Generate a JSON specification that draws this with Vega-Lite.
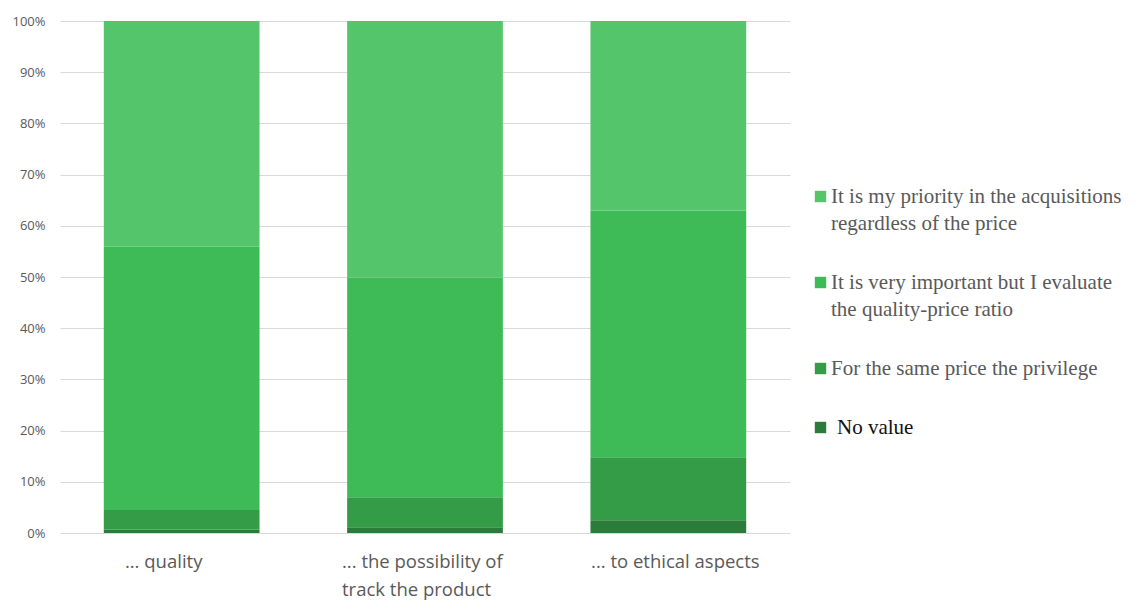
{
  "$schema": "https://vega.github.io/schema/vega-lite/v6.json",
  "width": 730,
  "height": 512,
  "autosize": {"type": "none"},
  "padding": {"left": 60, "top": 21, "right": 349, "bottom": 68},
  "background": "white",
  "config": {"view": {"stroke": null}},
  "data": {
    "values": [
      {"item": "... quality", "answer": "No value", "rank": 1, "share": 0.7},
      {"item": "... quality", "answer": "For the same price the privilege", "rank": 2, "share": 3.8},
      {"item": "... quality", "answer": "It is very important but I evaluate the quality-price ratio", "rank": 3, "share": 51.4},
      {"item": "... quality", "answer": "It is my priority in the acquisitions regardless of the price", "rank": 4, "share": 44.1},
      {"item": "... the possibility of track the product", "answer": "No value", "rank": 1, "share": 1.1},
      {"item": "... the possibility of track the product", "answer": "For the same price the privilege", "rank": 2, "share": 5.9},
      {"item": "... the possibility of track the product", "answer": "It is very important but I evaluate the quality-price ratio", "rank": 3, "share": 42.9},
      {"item": "... the possibility of track the product", "answer": "It is my priority in the acquisitions regardless of the price", "rank": 4, "share": 50.1},
      {"item": "... to ethical aspects", "answer": "No value", "rank": 1, "share": 2.5},
      {"item": "... to ethical aspects", "answer": "For the same price the privilege", "rank": 2, "share": 12.3},
      {"item": "... to ethical aspects", "answer": "It is very important but I evaluate the quality-price ratio", "rank": 3, "share": 48.2},
      {"item": "... to ethical aspects", "answer": "It is my priority in the acquisitions regardless of the price", "rank": 4, "share": 37.0}
    ]
  },
  "mark": {"type": "bar"},
  "encoding": {
    "x": {
      "field": "item",
      "type": "nominal",
      "sort": null,
      "scale": {"paddingInner": 0.36, "paddingOuter": 0.18},
      "axis": {
        "title": null,
        "domain": false,
        "ticks": false,
        "labelAngle": 0,
        "labelFont": "Open Sans",
        "labelFontSize": 18.5,
        "labelColor": "#595959",
        "labelPadding": 19,
        "labelLineHeight": 28,
        "labelLimit": 300,
        "labelExpr": "datum.label == '... the possibility of track the product' ? ['... the possibility of', 'track the product'] : datum.label",
        "labelAlign": {
          "condition": {"test": "datum.value == '... the possibility of track the product'", "value": "left"},
          "value": "center"
        },
        "labelOffset": {
          "expr": "datum.value == '... quality' ? -18 : datum.value == '... to ethical aspects' ? 7 : datum.value == '... the possibility of track the product' ? -83 : 0"
        }
      }
    },
    "y": {
      "field": "share",
      "type": "quantitative",
      "stack": "normalize",
      "scale": {"domain": [0, 1]},
      "axis": {
        "title": null,
        "format": ".0%",
        "values": [0, 0.1, 0.2, 0.3, 0.4, 0.5, 0.6, 0.7, 0.8, 0.9, 1],
        "domain": false,
        "ticks": false,
        "labelFont": "Open Sans",
        "labelFontSize": 13,
        "labelColor": "#595959",
        "labelPadding": 15,
        "grid": true,
        "gridColor": "#D9D9D9",
        "gridWidth": 1.2
      }
    },
    "order": {"field": "rank", "type": "quantitative"},
    "color": {
      "field": "answer",
      "type": "nominal",
      "scale": {
        "domain": [
          "It is my priority in the acquisitions regardless of the price",
          "It is very important but I evaluate the quality-price ratio",
          "For the same price the privilege",
          "No value"
        ],
        "range": ["#55C56C", "#3EBA57", "#349B47", "#2B7B3A"]
      },
      "legend": {
        "title": null,
        "orient": "none",
        "legendX": 750,
        "legendY": 165,
        "symbolType": "square",
        "symbolSize": 130,
        "symbolStrokeWidth": 0,
        "labelFont": "Liberation Serif",
        "labelFontSize": 21,
        "labelColor": "#595959",
        "labelOffset": 0,
        "labelLimit": 400,
        "rowPadding": 37,
        "labelExpr": "datum.label == 'It is my priority in the acquisitions regardless of the price' ? ['It is my priority in the acquisitions', 'regardless of the price'] : datum.label == 'It is very important but I evaluate the quality-price ratio' ? ['It is very important but I evaluate', 'the quality-price ratio'] : datum.label",
        "encode": {
          "labels": {
            "update": {
              "lineHeight": {"value": 27},
              "dx": {"signal": "datum.label == 'No value' ? 6 : 0"},
              "fill": {"signal": "datum.label == 'No value' ? '#111111' : '#595959'"}
            }
          }
        }
      }
    }
  }
}
